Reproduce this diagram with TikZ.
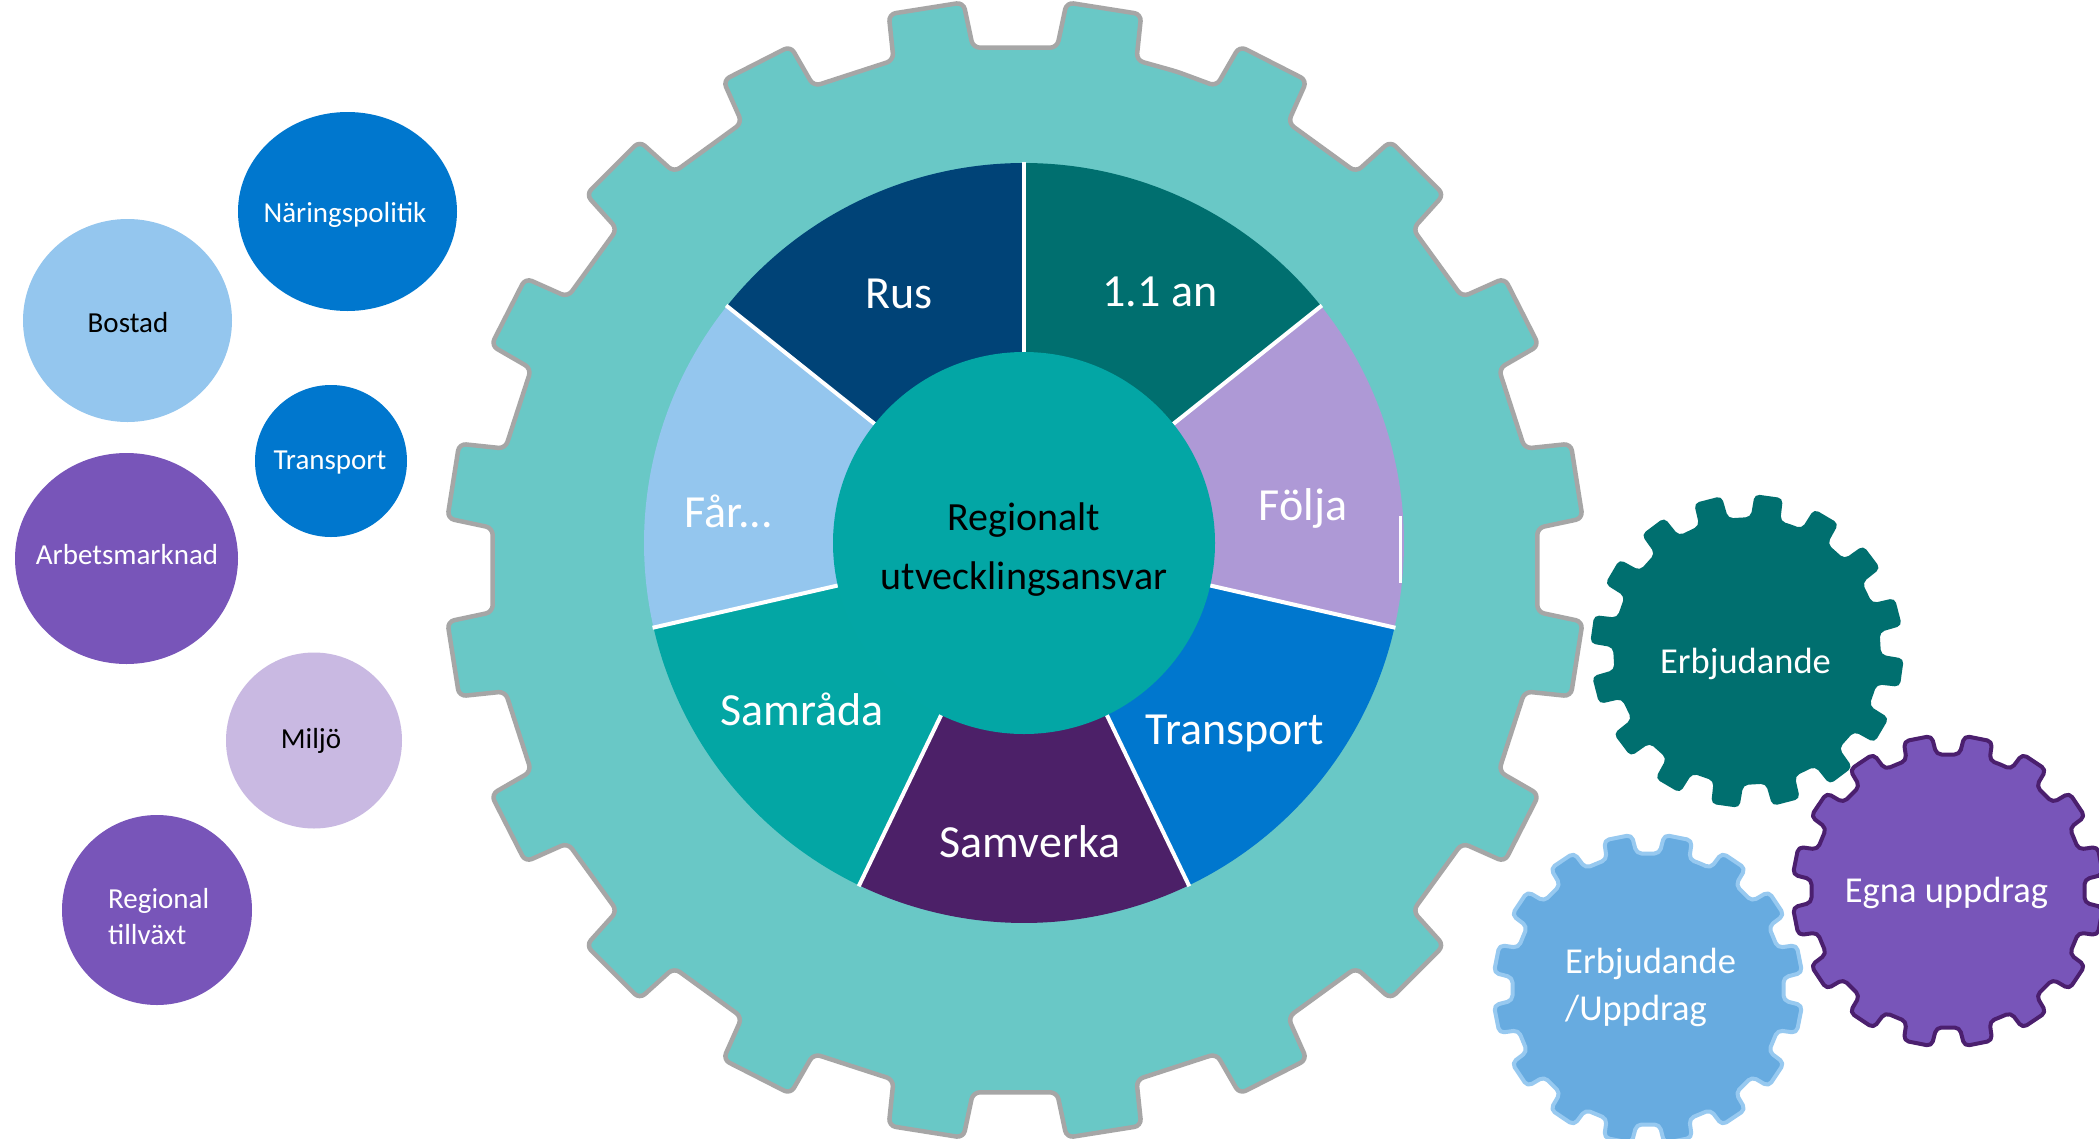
\documentclass[tikz,border=0pt]{standalone}
\usepackage{fontspec}
\setmainfont{Carlito}
\usetikzlibrary{calc}
\definecolor{biggear}{HTML}{69C8C6}
\definecolor{gearline}{HTML}{A6A6A6}
\definecolor{segRus}{HTML}{004377}
\definecolor{segAn}{HTML}{006F6F}
\definecolor{segFolja}{HTML}{AE99D6}
\definecolor{segTransport}{HTML}{0077CE}
\definecolor{segSamverka}{HTML}{4C2068}
\definecolor{segSamrada}{HTML}{03A6A4}
\definecolor{segFar}{HTML}{94C6EE}
\definecolor{hubcol}{HTML}{03A6A5}
\definecolor{cBlue}{HTML}{0077CE}
\definecolor{cLight}{HTML}{94C6EE}
\definecolor{cPurple}{HTML}{7855B9}
\definecolor{cLilac}{HTML}{C9B9E2}
\definecolor{gearTeal}{HTML}{006F6F}
\definecolor{gearBlue}{HTML}{67ABE0}
\definecolor{gearBlueLine}{HTML}{97C9F0}
\definecolor{gearPurple}{HTML}{7855B9}
\definecolor{gearPurpleLine}{HTML}{4B1F6E}
% #1 style, #2 cx, #3 cy, #4 tip radius, #5 root radius, #6 teeth, #7 first tooth angle, #8 root half-angle, #9 tip half-angle
\newcommand{\drawgear}[9]{%
  \pgfmathsetmacro{\gs}{360/#6}%
  \pgfmathtruncatemacro{\gn}{#6-1}%
  \path[#1, shift={(#2,#3)}] ({#7-\gs/2}:#5)
    \foreach \k in {0,...,\gn} {
      -- ({#7+\k*\gs-#8}:#5) -- ({#7+\k*\gs-#9}:#4) -- ({#7+\k*\gs+#9}:#4) -- ({#7+\k*\gs+#8}:#5)
    } -- cycle;
}
\begin{document}
\begin{tikzpicture}[x=1pt,y=1pt,
  lbl/.style={text=white, font=\fontsize{46}{55}\selectfont, inner sep=0pt, anchor=base},
  ctxt/.style={text=black, font=\fontsize{40}{48}\selectfont, inner sep=0pt, anchor=base},
  small/.style={font=\fontsize{29}{35}\selectfont, inner sep=0pt, anchor=base},
  geartxt/.style={text=white, font=\fontsize{36.5}{44}\selectfont, inner sep=0pt, anchor=base},
  sep/.style={white, line width=4pt},
]
\useasboundingbox[fill=white] (0,0) rectangle (2099,-1138);

% ---------- left circles ----------
\fill[cBlue]   (347.5,-211.5) ellipse[x radius=109.5, y radius=99.5];
\fill[cLight]  (127.5,-320.5) ellipse[x radius=104.5, y radius=101.5];
\fill[cBlue]   (331,-461) circle[radius=76];
\fill[cPurple] (126.5,-558.5) ellipse[x radius=111.5, y radius=105.5];
\fill[cLilac]  (314,-740.5) circle[radius=88];
\fill[cPurple] (157,-910) circle[radius=95];

\node[small, text=white] (naring) at (345,-222) {Näringspolitik};
\node[small, text=black] (bostad) at (128,-332) {Bostad};
\node[small, text=white] (transp1) at (330,-469) {Transport};
\node[small, text=white] (arbets) at (127,-564) {Arbetsmarknad};
\node[small, text=black] (miljo) at (311,-748) {Miljö};
\node[small, text=white, anchor=base west] (reg1) at (108,-908) {Regional};
\node[small, text=white, anchor=base west] (reg2) at (108,-944) {tillväxt};

% ---------- big gear ----------
\drawgear{fill=biggear, draw=gearline, line width=4.5pt, rounded corners=7pt, line join=round}{1015}{-570}{570}{524}{20}{81}{4.4}{3.8}

% ---------- pie ----------
\coordinate (P) at (1024,-543);
\foreach \c [count=\i from 0] in {segRus, segFar, segSamrada, segSamverka, segTransport, segFolja, segAn} {
  \fill[\c] (P) -- ($(P)+({90+\i*360/7}:380)$) arc[start angle={90+\i*360/7}, end angle={90+(\i+1)*360/7}, radius=380] -- cycle;
}
\foreach \i in {0,...,6} {
  \draw[sep] ($(P)+({90+\i*360/7}:185)$) -- ($(P)+({90+\i*360/7}:381)$);
}
\draw[white, line width=3pt] (1400,-516) -- (1400,-583);
\node[circle, fill=hubcol, minimum size=382pt, inner sep=0pt] (hub) at (P) {};

\node[ctxt] (hub1) at (1024,-530) {Regionalt};
\node[ctxt] (hub2) at (1024,-589) {utvecklingsansvar};

\node[lbl] (rus) at (899,-308) {Rus};
\node[lbl] (an) at (1160,-306) {1.1 an};
\node[lbl] (folja) at (1303,-520) {Följa};
\node[lbl] (far) at (729,-527) {Får...};
\node[lbl] (samrada) at (802,-725) {Samråda};
\node[lbl] (samverka) at (1030,-857) {Samverka};
\node[lbl] (transp2) at (1235,-744) {Transport};

% ---------- small gears ----------
\drawgear{fill=gearTeal, rounded corners=5pt}{1747}{-651}{157}{134}{16}{82}{6.4}{5.2}
\drawgear{fill=gearBlue, draw=gearBlueLine, line width=4pt, rounded corners=5pt, line join=round}{1648}{-989}{155}{136}{16}{78.75}{6.4}{5.2}
\drawgear{fill=gearPurple, draw=gearPurpleLine, line width=4pt, rounded corners=5pt, line join=round}{1948}{-891}{156}{137}{16}{78.75}{6.4}{5.2}

\node[geartxt] (erb) at (1745.5,-673) {Erbjudande};
\node[geartxt, anchor=base west] (erbu1) at (1565,-973) {Erbjudande};
\node[geartxt, anchor=base west] (erbu2) at (1565,-1020) {/Uppdrag};
\node[geartxt] (egna) at (1946.5,-902) {Egna uppdrag};
\end{tikzpicture}
\end{document}
